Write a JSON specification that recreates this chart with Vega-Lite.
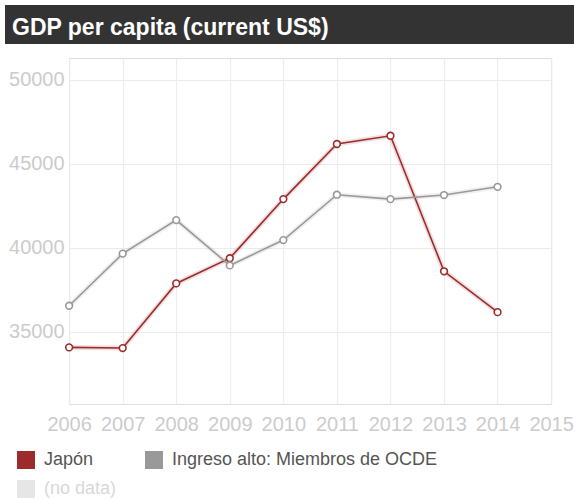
{
  "$schema": "https://vega.github.io/schema/vega-lite/v6.json",
  "padding": {"left": 5, "top": 5, "right": 0, "bottom": 0},
  "autosize": {"type": "pad"},
  "background": "white",
  "spacing": 13,
  "center": true,
  "title": {
    "text": "GDP per capita (current US$)",
    "anchor": "start",
    "frame": "group",
    "offset": -35,
    "dx": 7,
    "color": "white",
    "font": "Liberation Sans",
    "fontSize": 23,
    "fontWeight": "bold"
  },
  "config": {
    "view": {"stroke": "#dddddd"},
    "axis": {
      "labelFont": "Liberation Sans",
      "labelFontSize": 20,
      "labelColor": "#cccccc",
      "gridColor": "#ebebeb",
      "domain": false,
      "ticks": false,
      "title": null
    }
  },
  "vconcat": [
    {
      "width": 633,
      "height": 39,
      "view": {"fill": "#333333", "stroke": null},
      "data": {"values": [{"bar": "title"}]},
      "mark": {"type": "rect", "color": "#333333"},
      "encoding": {}
    },
    {
      "width": 482,
      "height": 346,
      "data": {
        "values": [
          {"year": 2006, "series": "Japón", "value": 34070},
          {"year": 2007, "series": "Japón", "value": 34030},
          {"year": 2008, "series": "Japón", "value": 37880},
          {"year": 2009, "series": "Japón", "value": 39380},
          {"year": 2010, "series": "Japón", "value": 42900},
          {"year": 2011, "series": "Japón", "value": 46180},
          {"year": 2012, "series": "Japón", "value": 46670},
          {"year": 2013, "series": "Japón", "value": 38600},
          {"year": 2014, "series": "Japón", "value": 36170},
          {"year": 2006, "series": "Ingreso alto: Miembros de OCDE", "value": 36550},
          {"year": 2007, "series": "Ingreso alto: Miembros de OCDE", "value": 39650},
          {"year": 2008, "series": "Ingreso alto: Miembros de OCDE", "value": 41650},
          {"year": 2009, "series": "Ingreso alto: Miembros de OCDE", "value": 38950},
          {"year": 2010, "series": "Ingreso alto: Miembros de OCDE", "value": 40460},
          {"year": 2011, "series": "Ingreso alto: Miembros de OCDE", "value": 43160},
          {"year": 2012, "series": "Ingreso alto: Miembros de OCDE", "value": 42900},
          {"year": 2013, "series": "Ingreso alto: Miembros de OCDE", "value": 43140},
          {"year": 2014, "series": "Ingreso alto: Miembros de OCDE", "value": 43630}
        ]
      },
      "encoding": {
        "x": {
          "field": "year",
          "type": "quantitative",
          "scale": {"domain": [2006, 2015], "nice": false, "zero": false},
          "axis": {
            "values": [2006, 2007, 2008, 2009, 2010, 2011, 2012, 2013, 2014, 2015],
            "format": "d",
            "labelPadding": 10,
            "labelOverlap": false,
            "labelFlush": false,
            "grid": true
          }
        },
        "y": {
          "field": "value",
          "type": "quantitative",
          "scale": {"domain": [30700, 51300], "nice": false, "zero": false},
          "axis": {
            "values": [35000, 40000, 45000, 50000],
            "format": "d",
            "labelPadding": 5,
            "grid": true
          }
        },
        "color": {
          "field": "series",
          "type": "nominal",
          "scale": {
            "domain": ["Japón", "Ingreso alto: Miembros de OCDE", "(no data)"],
            "range": ["#9c2b2b", "#999999", "#e6e6e6"]
          },
          "legend": {
            "title": null,
            "orient": "none",
            "legendX": 12,
            "legendY": 446,
            "direction": "horizontal",
            "columns": 2,
            "symbolType": "square",
            "symbolSize": 324,
            "symbolStrokeWidth": 0,
            "labelFont": "Liberation Sans",
            "labelFontSize": 18,
            "labelColor": "#555555",
            "labelOffset": 9,
            "labelLimit": 400,
            "rowPadding": 11,
            "columnPadding": 28,
            "encode": {
              "symbols": {
                "update": {
                  "fill": {"signal": "scale('color', datum.value)"},
                  "stroke": {"value": "transparent"},
                  "opacity": {"value": 1}
                }
              },
              "labels": {
                "update": {
                  "fill": {"signal": "datum.value === '(no data)' ? '#d8d8d8' : '#555555'"}
                }
              }
            }
          }
        }
      },
      "layer": [
        {"mark": {"type": "line", "strokeWidth": 5, "opacity": 0.15}},
        {
          "mark": {
            "type": "line",
            "strokeWidth": 1.6,
            "point": {"filled": false, "fill": "white", "size": 45, "strokeWidth": 1.6}
          }
        }
      ]
    }
  ]
}
